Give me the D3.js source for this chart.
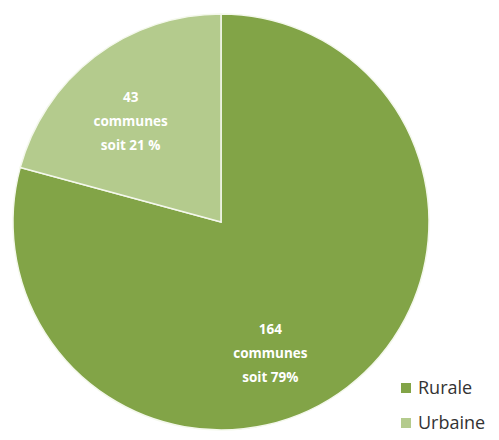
<!DOCTYPE html>
<html>
<head>
<meta charset="utf-8">
<script src="https://cdn.jsdelivr.net/npm/d3@7"></script>
<style>
  body { margin: 0; background: #fff; }
  svg { display: block; }
  .slice-label { font-family: "Open Sans", "DejaVu Sans", sans-serif; font-weight: bold; fill: #fff; font-size: 13.5px; }
  .legend text { font-family: "Open Sans", "DejaVu Sans", sans-serif; font-size: 18px; fill: #333; }
</style>
</head>
<body>
<svg width="499" height="440"></svg>
<script>
const categories = ["Rurale", "Urbaine"];
const communes = [164, 43];
const percents = [79, 21];
const colors = ["#82a447", "#b4cb8d"];

const svg = d3.select("svg");
const cx = 221, cy = 222, r = 208;

const pie = d3.pie().sort(null).value(d => d.value);
const data = pie(categories.map((c, i) => ({ name: c, value: communes[i], pct: percents[i], color: colors[i] })));

const arc = d3.arc().innerRadius(0).outerRadius(r);

const g = svg.append("g").attr("transform", `translate(${cx},${cy})`);

g.selectAll("path")
  .data(data)
  .enter().append("path")
  .attr("d", arc)
  .attr("fill", d => d.data.color)
  .attr("stroke", "#f4f8ec")
  .attr("stroke-width", 1.5);

// labels placed inside slices, nudged like the original
const labelArc = d3.arc().innerRadius(r * 0.66).outerRadius(r * 0.66);
const labelOffsets = [[-34, 22], [-7, 8]];

const labels = g.selectAll("text.slice-label")
  .data(data)
  .enter().append("text")
  .attr("class", "slice-label")
  .attr("text-anchor", "middle")
  .attr("transform", (d, i) => {
    const [x, y] = labelArc.centroid(d);
    return `translate(${x + labelOffsets[i][0]},${y + labelOffsets[i][1]})`;
  });

labels.append("tspan").attr("x", 0).attr("y", -19).text(d => d.data.value);
labels.append("tspan").attr("x", 0).attr("y", 5).text("communes");
labels.append("tspan").attr("x", 0).attr("y", 29).text(d => d.data.name === "Rurale" ? `soit ${d.data.pct}%` : `soit ${d.data.pct} %`);

// legend
const legend = svg.append("g").attr("class", "legend")
  .selectAll("g")
  .data(data)
  .enter().append("g")
  .attr("transform", (d, i) => `translate(401,${383 + i * 35})`);

legend.append("rect")
  .attr("width", 10).attr("height", 10)
  .attr("fill", d => d.data.color);

legend.append("text")
  .attr("x", 17).attr("y", 11)
  .text(d => d.data.name);
</script>
</body>
</html>
